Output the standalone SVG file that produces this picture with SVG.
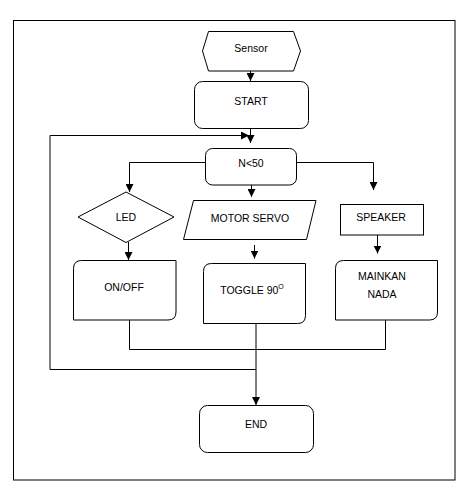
<svg xmlns="http://www.w3.org/2000/svg" width="474" height="499" viewBox="0 0 474 499">
<defs>
<style>
.s{fill:#fff;stroke:#000;stroke-width:1}
.c{fill:none;stroke:#000;stroke-width:1}
.t{font-family:"Liberation Sans",Arial,sans-serif;font-size:10.5px;fill:#000;text-anchor:middle;dominant-baseline:central}
</style>
<marker id="a" viewBox="0 0 8 8" refX="8" refY="4" markerWidth="8" markerHeight="8" markerUnits="userSpaceOnUse" orient="auto">
<path d="M0,0 L8,4 L0,8 Z" fill="#000"/>
</marker>
</defs>
<rect x="0" y="0" width="474" height="499" fill="#fff"/>
<rect x="13.5" y="20.5" width="441.5" height="459.5" class="c"/>
<g id="connectors">
<path class="c" d="M250.5,71 V81" marker-end="url(#a)"/>
<path class="c" d="M250.5,128 V143" marker-end="url(#a)"/>
<path class="c" d="M50,369.5 V135.5 H249" marker-end="url(#a)"/>
<path class="c" d="M205,162.5 H129.5 V192" marker-end="url(#a)"/>
<path class="c" d="M297,162.5 H373.5 V190" marker-end="url(#a)"/>
<path class="c" d="M251.5,185 V197" marker-end="url(#a)"/>
<path class="c" d="M128.5,242 V260" marker-end="url(#a)"/>
<path class="c" d="M254.5,245 V258.5" marker-end="url(#a)"/>
<path class="c" d="M377.5,235 V253.5" marker-end="url(#a)"/>
<path class="c" d="M129.5,320 V349.5 H385.5 V320"/>
<path class="c" d="M50,369.5 H256"/>
<path class="c" d="M256,323 V405" marker-end="url(#a)"/>
</g>
<g id="sensor">
<path class="s" d="M202.5,51 L208.5,31.5 H293.5 L300.5,51 L293.5,71 H208.5 Z"/>
<text class="t" x="251" y="48">Sensor</text>
</g>
<g id="start">
<rect class="s" x="194.5" y="81.5" width="114" height="47" rx="8"/>
<text class="t" x="251" y="101">START</text>
</g>
<g id="n50">
<rect class="s" x="205.5" y="148.5" width="91" height="36.5" rx="7"/>
<text class="t" x="251" y="163">N&lt;50</text>
</g>
<g id="led">
<path class="s" d="M126,192 L174,217 L126,242.5 L78,217 Z"/>
<text class="t" x="126" y="217">LED</text>
</g>
<g id="motor">
<path class="s" d="M193.5,200.5 H316 L306.5,239.5 H183.5 Z"/>
<text class="t" x="250" y="218">MOTOR SERVO</text>
</g>
<g id="speaker">
<rect class="s" x="340.5" y="204.5" width="83" height="30.5"/>
<text class="t" x="381" y="217">SPEAKER</text>
</g>
<g id="onoff">
<path class="s" d="M81.5,260.5 H176 V312 Q176,320 168,320 H73.5 V268.5 Q73.5,260.5 81.5,260.5 Z"/>
<text class="t" x="124" y="287">ON/OFF</text>
</g>
<g id="toggle">
<path class="s" d="M211.5,263.5 H305.5 V315.5 Q305.5,323.5 297.5,323.5 H203.5 V271.5 Q203.5,263.5 211.5,263.5 Z"/>
<text class="t" x="252" y="290">TOGGLE 90<tspan dy="-4" font-size="7px">O</tspan></text>
</g>
<g id="mainkan">
<path class="s" d="M343.5,260.5 H437.5 V312 Q437.5,320 429.5,320 H335.5 V268.5 Q335.5,260.5 343.5,260.5 Z"/>
<text class="t" x="382" y="276">MAINKAN</text>
<text class="t" x="382" y="294">NADA</text>
</g>
<g id="end">
<rect class="s" x="199.5" y="405.5" width="114" height="47" rx="8"/>
<text class="t" x="256" y="424">END</text>
</g>
</svg>
